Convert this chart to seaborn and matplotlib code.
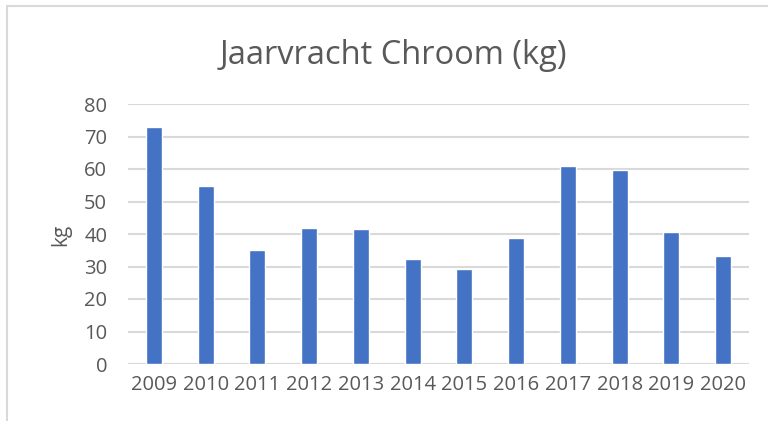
import matplotlib
matplotlib.use("Agg")
import matplotlib.pyplot as plt
from matplotlib.patches import Rectangle
import pandas as pd
import seaborn as sns

years = ["2009", "2010", "2011", "2012", "2013", "2014",
         "2015", "2016", "2017", "2018", "2019", "2020"]
chroom_kg = [72.8, 54.9, 35.1, 41.8, 41.5, 32.3, 29.3, 38.8, 60.9, 59.7, 40.7, 33.2]
y_ticks = [0, 10, 20, 30, 40, 50, 60, 70, 80]

df = pd.DataFrame({"jaar": years, "kg": chroom_kg})

sns.set_style("white")
plt.rcParams["font.family"] = ["Open Sans", "DejaVu Sans"]
text_color = "#595959"
grid_color = "#d9d9d9"

fig = plt.figure(figsize=(7.68, 4.21), dpi=100)
ax = fig.add_axes([128 / 768, 1 - 364 / 421, 621 / 768, 260 / 421])

sns.barplot(data=df, x="jaar", y="kg", color="#4472C4", saturation=1,
            width=0.31, ax=ax, zorder=3)

ax.set_ylim(0, 80)
ax.set_yticks(y_ticks)
ax.set_xlim(-0.5, len(years) - 0.5)
ax.yaxis.grid(True, color=grid_color, linewidth=1.5, zorder=0)
ax.set_axisbelow(True)
for s in ax.spines.values():
    s.set_visible(False)
ax.axhline(0, color=grid_color, linewidth=1.5, zorder=1)
ax.tick_params(axis="both", length=0, labelsize=14.5, colors=text_color)
ax.tick_params(axis="y", pad=15)
ax.tick_params(axis="x", pad=8)
ax.set_xlabel("")
ax.set_ylabel("")

fig.text(61 / 768, 1 - 235 / 421, "kg", rotation=90, ha="center", va="center",
         fontsize=15, color=text_color)
fig.text(393 / 768, 1 - 56 / 421, "Jaarvracht Chroom (kg)", ha="center",
         va="center", fontsize=23.5, color=text_color)

# chart frame
fig.add_artist(Rectangle((7 / 768, -0.1), 1.2, 1.1 - 6 / 421,
                         transform=fig.transFigure, fill=False,
                         edgecolor=grid_color, linewidth=1.5))

fig.savefig("out.png", dpi=100)
